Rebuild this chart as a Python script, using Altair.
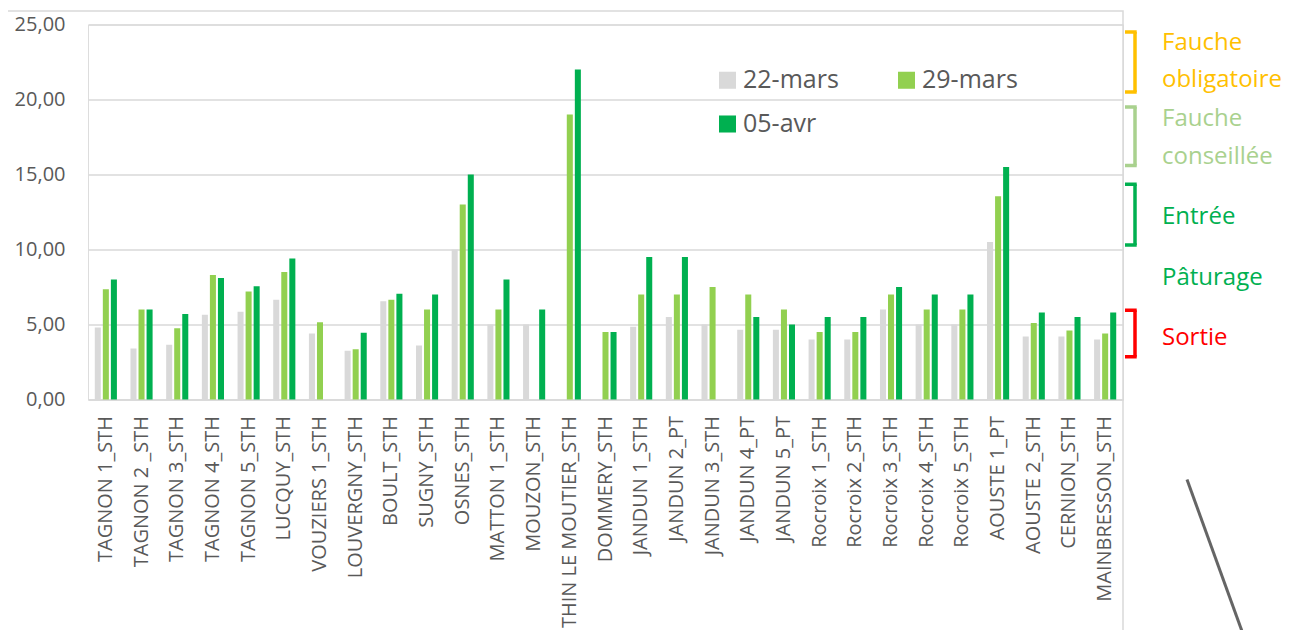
import altair as alt
import pandas as pd

sites = ["TAGNON 1_STH", "TAGNON 2 _STH", "TAGNON 3_STH", "TAGNON 4_STH", "TAGNON 5_STH",
         "LUCQUY_STH", "VOUZIERS 1_STH", "LOUVERGNY_STH", "BOULT_STH", "SUGNY_STH",
         "OSNES_STH", "MATTON 1_STH", "MOUZON_STH", "THIN LE MOUTIER_STH", "DOMMERY_STH",
         "JANDUN 1_STH", "JANDUN 2_PT", "JANDUN 3_STH", "JANDUN 4_PT", "JANDUN 5_PT",
         "Rocroix 1_STH", "Rocroix 2_STH", "Rocroix 3_STH", "Rocroix 4_STH", "Rocroix 5_STH",
         "AOUSTE 1_PT", "AOUSTE 2_STH", "CERNION_STH", "MAINBRESSON_STH"]
dates = ["22-mars", "29-mars", "05-avr"]
mars22 = [4.8, 3.4, 3.65, 5.65, 5.85, 6.65, 4.4, 3.25, 6.55, 3.6, 10.0, 5.0, 5.0, None, None,
          4.85, 5.5, 5.0, 4.65, 4.65, 4.0, 4.0, 6.0, 5.0, 5.0, 10.5, 4.2, 4.2, 4.0]
mars29 = [7.35, 6.0, 4.75, 8.3, 7.2, 8.5, 5.15, 3.35, 6.65, 6.0, 13.0, 6.0, None, 19.0, 4.5,
          7.0, 7.0, 7.5, 7.0, 6.0, 4.5, 4.5, 7.0, 6.0, 6.0, 13.55, 5.1, 4.6, 4.4]
avr05 = [8.0, 6.0, 5.7, 8.1, 7.55, 9.4, None, 4.45, 7.05, 7.0, 15.0, 8.0, 6.0, 22.0, 4.5,
         9.5, 9.5, None, 5.5, 5.0, 5.5, 5.5, 7.5, 7.0, 7.0, 15.5, 5.8, 5.5, 5.8]
date_colors = {"22-mars": "#D9D9D9", "29-mars": "#92D050", "05-avr": "#00B050"}
# legend is filled column by column (2 columns): this order gives 22-mars, 29-mars / 05-avr
legend_order = ["22-mars", "05-avr", "29-mars"]

# right-hand annotation texts (y in data units)
note_text = ["Fauche", "obligatoire", "Fauche", "conseillée", "Entrée", "Pâturage", "Sortie"]
note_y = [23.75, 21.3, 18.7, 16.15, 12.15, 8.1, 4.1]
note_color = ["#FFC000", "#FFC000", "#A9D18E", "#A9D18E", "#00B050", "#00B050", "#FF0000"]
# brackets (top, bottom in data units)
br_top = [24.5, 19.5, 14.35, 5.95]
br_bot = [20.5, 15.6, 10.3, 2.85]
br_color = ["#FFC000", "#A9D18E", "#00B050", "#FF0000"]

FONT = "Open Sans"
W, H = 1035, 375

rows = []
for series, d in zip([mars22, mars29, avr05], dates):
    for s, v in zip(sites, series):
        if v is not None:
            rows.append({"site": s, "date": d, "value": v})
df = pd.DataFrame(rows)

yscale = alt.Scale(domain=[0, 25], nice=False)

bars = alt.Chart(df).mark_bar().encode(
    x=alt.X("site:N", sort=sites, scale=alt.Scale(paddingInner=0.38, paddingOuter=0.19),
            axis=alt.Axis(title=None, labelAngle=-90, labelFontSize=20, labelColor="#595959",
                          labelFont=FONT, labelPadding=16, ticks=False, domainColor="#D9D9D9",
                          domainWidth=1.5, labelLimit=300)),
    xOffset=alt.XOffset("date:N", sort=dates, scale=alt.Scale(paddingInner=0.25)),
    y=alt.Y("value:Q", scale=yscale,
            axis=alt.Axis(title=None, values=[0, 5, 10, 15, 20, 25],
                          labelExpr="replace(format(datum.value, '.2f'), '.', ',')",
                          labelFontSize=20, labelColor="#595959", labelFont=FONT,
                          labelPadding=23, ticks=False, domain=False,
                          gridColor="#D9D9D9", gridWidth=1.5)),
    color=alt.Color("date:N",
                    scale=alt.Scale(domain=legend_order,
                                    range=[date_colors[d] for d in legend_order]),
                    legend=alt.Legend(orient="none", legendX=627, legendY=43, columns=2,
                                      title=None, symbolType="square", symbolSize=290,
                                      labelFontSize=25, labelColor="#595959", labelFont=FONT,
                                      columnPadding=55, rowPadding=18, labelOffset=3,
                                      padding=0, symbolStrokeWidth=0)),
)

frame = alt.Chart(pd.DataFrame({"k": [0]})).mark_rect(
    fillOpacity=0, stroke="#D9D9D9", strokeWidth=1.5
).encode(x=alt.value(-81), x2=alt.value(W), y=alt.value(-13.5), y2=alt.value(700))

notes_df = pd.DataFrame({"t": note_text, "y": note_y, "c": note_color})
notes = alt.Chart(notes_df).mark_text(
    align="left", baseline="middle", fontSize=24, font=FONT
).encode(x=alt.value(1074), y=alt.Y("y:Q", scale=yscale), text="t:N",
         color=alt.Color("c:N", scale=None))

br_df = pd.DataFrame({"top": br_top, "bot": br_bot, "c": br_color})
br_v = alt.Chart(br_df).mark_rule(strokeWidth=3.5).encode(
    x=alt.value(1047), y=alt.Y("top:Q", scale=yscale), y2="bot:Q",
    color=alt.Color("c:N", scale=None))
br_t = alt.Chart(br_df).mark_rule(strokeWidth=3.5).encode(
    x=alt.value(1037), x2=alt.value(1048.7), y=alt.Y("top:Q", scale=yscale),
    color=alt.Color("c:N", scale=None))
br_b = alt.Chart(br_df).mark_rule(strokeWidth=3.5).encode(
    x=alt.value(1037), x2=alt.value(1048.7), y=alt.Y("bot:Q", scale=yscale),
    color=alt.Color("c:N", scale=None))

stick = alt.Chart(pd.DataFrame({"k": [0]})).mark_rule(
    stroke="#4a4a4a", strokeWidth=3, opacity=0.85
).encode(x=alt.value(1099), y=alt.value(455), x2=alt.value(1157), y2=alt.value(615))

chart = alt.layer(frame, bars, notes, br_v, br_t, br_b, stick).properties(
    width=W, height=H,
    autosize=alt.AutoSizeParams(type="none"),
    padding={"left": 80, "top": 16.5, "right": 160, "bottom": 230},
).configure_view(stroke=None).configure(font=FONT)

chart.save("out.html", embed_options={"renderer": "svg", "actions": False})
